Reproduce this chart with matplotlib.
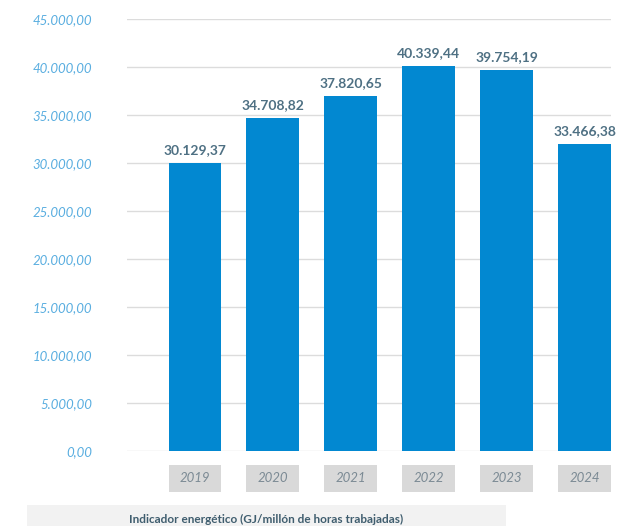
import matplotlib.pyplot as plt
from matplotlib.patches import Rectangle
import matplotlib.transforms as mtransforms

years = ['2019', '2020', '2021', '2022', '2023', '2024']
# bar heights as drawn in the picture
heights = [30000, 34700, 37000, 40100, 39700, 32000]
value_labels = ['30.129,37', '34.708,82', '37.820,65', '40.339,44', '39.754,19', '33.466,38']
yticks = [0, 5000, 10000, 15000, 20000, 25000, 30000, 35000, 40000, 45000]
ytick_labels = ['0,00', '5.000,00', '10.000,00', '15.000,00', '20.000,00',
                '25.000,00', '30.000,00', '35.000,00', '40.000,00', '45.000,00']
caption = 'Indicador energético (GJ/millón de horas trabajadas)'

plt.rcParams['font.family'] = ['Lato', 'DejaVu Sans']

W, H = 631, 526
fig = plt.figure(figsize=(W / 100, H / 100), dpi=100)
ax = fig.add_axes([127 / W, 1 - 451 / H, (611 - 127) / W, (451 - 19) / H])

x = list(range(len(years)))
ax.bar(x, heights, width=0.68, color='#0288d1', zorder=3)

for xi, h, lab in zip(x, heights, value_labels):
    ax.text(xi, h + 700, lab, ha='center', va='bottom', fontsize=10,
            fontweight='bold', color='#4e7083')

ax.set_ylim(0, 45000)
ax.set_xlim(-0.873, 5.34)
ax.set_yticks(yticks)
ax.set_yticklabels(ytick_labels, fontsize=9.5, style='italic', color='#5aaee0')
ax.tick_params(axis='y', length=0, pad=25)
ax.set_xticks([])

for yv in yticks:
    ax.axhline(yv, color='#dcdcdc', linewidth=1, zorder=1)
for s in ax.spines.values():
    s.set_visible(False)

# year boxes below the axis
trans = mtransforms.blended_transform_factory(ax.transData, ax.transAxes)
for xi, yr in zip(x, years):
    ax.add_patch(Rectangle((xi - 0.34, -0.0949), 0.68, 0.0625, transform=trans,
                           facecolor='#d9d9d9', edgecolor='none', clip_on=False))
    ax.text(xi, -0.0636, yr, transform=trans, ha='center', va='center',
            fontsize=9.5, style='italic', color='#7b8a94')

# caption strip
fig.patches.append(Rectangle((27 / W, 0), (506 - 27) / W, 21 / H,
                             transform=fig.transFigure, facecolor='#f2f2f2',
                             edgecolor='none'))
fig.text(266 / W, 3 / H, caption, ha='center', va='baseline', fontsize=8.5,
         fontweight='bold', color='#3f5d6e')

fig.savefig('out.png', dpi=100)
